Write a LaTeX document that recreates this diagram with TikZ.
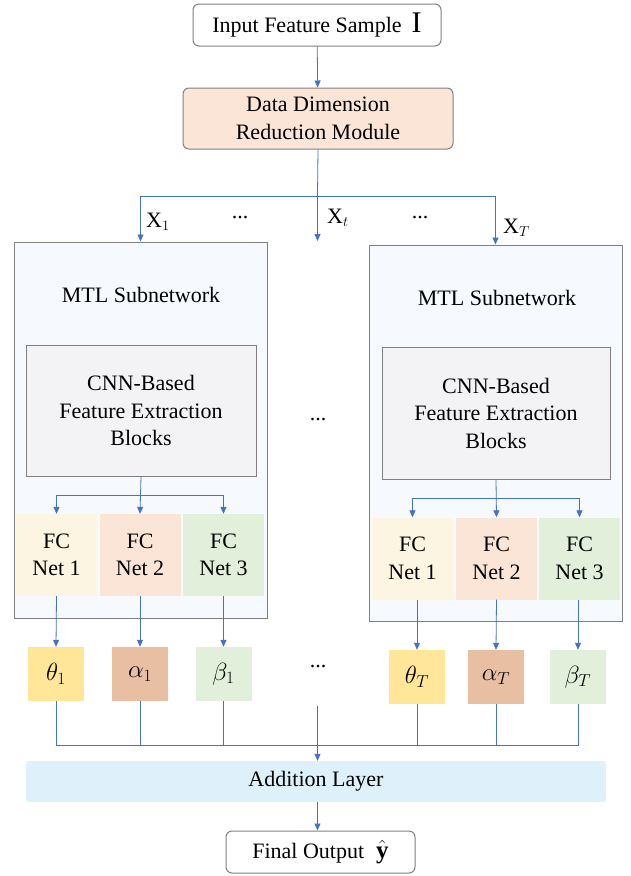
\documentclass[tikz,border=0pt]{standalone}
\usepackage{fontspec}
\setmainfont{LiberationSerif}[Extension=.ttf, UprightFont=*-Regular, BoldFont=*-Bold, ItalicFont=*-Italic, BoldItalicFont=*-BoldItalic]
\usepackage{amsmath}
\usepackage{amsfonts}
\usetikzlibrary{arrows.meta}
\definecolor{linegrey}{RGB}{128,128,128}
\definecolor{arrowblue}{RGB}{68,114,196}
\definecolor{ddrfill}{RGB}{251,229,214}
\definecolor{subfill}{RGB}{246,250,254}
\definecolor{cnnfill}{RGB}{243,243,245}
\definecolor{fcone}{RGB}{252,245,225}
\definecolor{fctwo}{RGB}{251,229,215}
\definecolor{fcthree}{RGB}{226,239,218}
\definecolor{thfill}{RGB}{255,230,153}
\definecolor{alfill}{RGB}{232,191,162}
\definecolor{befill}{RGB}{226,239,218}
\definecolor{addfill}{RGB}{222,241,250}

\begin{document}
\begin{tikzpicture}[x=1pt,y=-1pt]
\tikzstyle{every node}+=[inner sep=0pt, font=\fontsize{22}{27.5}\selectfont]
\tikzstyle{box}=[draw=linegrey, line width=1pt, align=center]
\tikzstyle{rbox}=[box, rounded corners=6pt]
\tikzstyle{fcbox}=[align=center, minimum width=81pt, minimum height=82pt]
\tikzstyle{parbox}=[minimum width=56pt, minimum height=54pt, font=\fontsize{25}{25}\selectfont]
\tikzstyle{flow}=[draw=arrowblue, line width=0.8pt]
\tikzstyle{flowarrow}=[flow, -{Triangle[length=7pt,width=6pt]}]
\useasboundingbox (0,0) rectangle (631,876);

\node [rbox, fill=white, minimum width=248pt, minimum height=42pt] (inp) at (317,25) {Input Feature Sample\hspace{10pt}{\fontsize{30}{30}\selectfont I}};
\node [rbox, fill=ddrfill, minimum width=270pt, minimum height=61pt] (ddr) at (318,118.5) {Data Dimension\\Reduction Module};
\draw [flowarrow] (inp) -- (ddr);

\node [box, fill=subfill, minimum width=253pt, minimum height=376pt] (sub1) at (140.5,430) {};
\node [box, fill=subfill, minimum width=253pt, minimum height=376pt] (subT) at (495.5,433) {};
\node (mtl1) at (141,295) {MTL Subnetwork};
\node (mtlT) at (497,298) {MTL Subnetwork};

\coordinate (split) at (317.5,196);
\coordinate (xt) at (317.5,241);
\draw [flow] (ddr.south) -- (split);
\draw [flowarrow] (split) -| (sub1.north);
\draw [flowarrow] (split) -| (subT.north);
\draw [flowarrow] (split) -- (xt);
\node [anchor=base west] (x1) at (146,227) {X$_1$};
\node [anchor=base west] (xtl) at (327,223) {X$_t$};
\node [anchor=base west] (xT) at (503,233) {X$_T$};
\node (dots1) at (240,218) {...};
\node (dots2) at (420,218) {...};

\node [box, fill=cnnfill, minimum width=230pt, minimum height=131pt] (cnn1) at (141,410.5) {CNN-Based\\Feature Extraction\\Blocks};
\node [box, fill=cnnfill, minimum width=228pt, minimum height=132pt] (cnnT) at (496,413) {CNN-Based\\Feature Extraction\\Blocks};
\node (dots3) at (318,420) {...};

\node [fcbox, fill=fcone] (fc11) at (56.5,555) {FC\\Net 1};
\node [fcbox, fill=fctwo] (fc12) at (140,555) {FC\\Net 2};
\node [fcbox, fill=fcthree] (fc13) at (223.5,555) {FC\\Net 3};
\node [fcbox, fill=fcone] (fcT1) at (412.5,558.5) {FC\\Net 1};
\node [fcbox, fill=fctwo] (fcT2) at (496.5,558.5) {FC\\Net 2};
\node [fcbox, fill=fcthree] (fcT3) at (579.5,558.5) {FC\\Net 3};

\coordinate (s1) at (141,495);
\coordinate (sT) at (496,498);
\draw [flowarrow] (cnn1.south) -- (fc12.north);
\draw [flowarrow] (s1) -| (fc11.north);
\draw [flowarrow] (s1) -| (fc13.north);
\draw [flowarrow] (cnnT.south) -- (fcT2.north);
\draw [flowarrow] (sT) -| (fcT1.north);
\draw [flowarrow] (sT) -| (fcT3.north);

\node [parbox, fill=thfill] (th1) at (56,674) {$\theta_1$};
\node [parbox, fill=alfill] (al1) at (140,674) {$\alpha_1$};
\node [parbox, fill=befill] (be1) at (223.5,674) {$\beta_1$};
\node [parbox, fill=thfill] (thT) at (417,677) {$\theta_T$};
\node [parbox, fill=alfill] (alT) at (496,677) {$\alpha_T$};
\node [parbox, fill=befill] (beT) at (578,677) {$\beta_T$};
\node (dots4) at (318,667) {...};

\draw [flowarrow] (fc11.south) -- (th1.north);
\draw [flowarrow] (fc12.south) -- (al1.north);
\draw [flowarrow] (fc13.south) -- (be1.north);
\draw [flowarrow] (thT.north |- fcT1.south) -- (thT.north);
\draw [flowarrow] (fcT2.south) -- (alT.north);
\draw [flowarrow] (beT.north |- fcT3.south) -- (beT.north);

\coordinate (join) at (317.5,745);
\coordinate (mid) at (317.5,706);
\draw [flow] (th1.south) |- (beT.south |- join) -- (beT.south);
\foreach \n in {al1,be1,thT,alT}
  \draw [flow] (\n.south) -- (\n.south |- join);

\node [fill=addfill, rounded corners=3pt, minimum width=580pt, minimum height=41pt] (add) at (316,781.5) {Addition Layer};
\draw [flowarrow] (mid) -- (add.north -| mid);

\node [rbox, fill=white, minimum width=189pt, minimum height=42pt] (fin) at (320.5,852) {Final Output\hspace{12pt}{\fontsize{25}{25}\selectfont$\hat{\mathbf{y}}$}};
\draw [flowarrow] (add.south -| mid) -- (fin.north -| mid);
\end{tikzpicture}
\end{document}
